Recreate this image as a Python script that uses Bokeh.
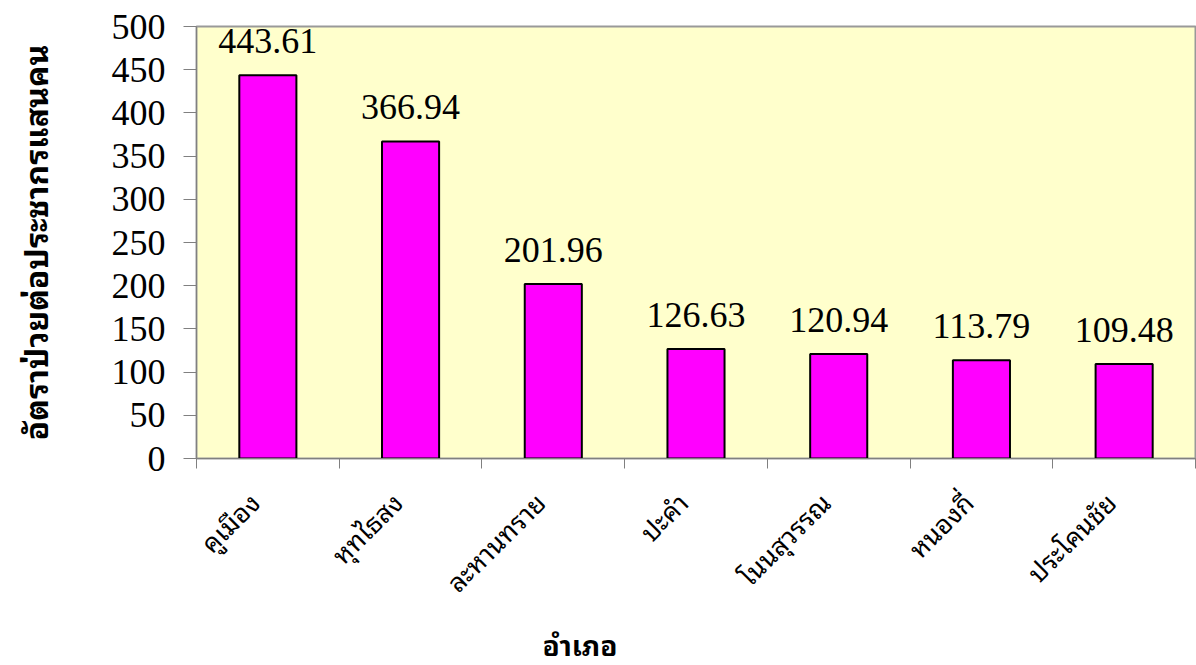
import math
from bokeh.plotting import figure
from bokeh.models import ColumnDataSource, LabelSet, FixedTicker, Range1d, Title
from bokeh.embed import file_html
from bokeh.resources import INLINE

categories = ["คูเมือง", "หุทไธสง", "ละหานทราย", "ปะคำ", "โนนสุวรรณ", "หนองกี่", "ประโคนชัย"]
values = [443.61, 366.94, 201.96, 126.63, 120.94, 113.79, 109.48]
y_ticks = [0, 50, 100, 150, 200, 250, 300, 350, 400, 450, 500]
x_title = "อำเภอ"
y_title = "อัตราป่วยต่อประชากรแสนคน"

THAI = "Noto Sans Thai Looped"

n = len(categories)
xpos = [i + 0.5 for i in range(n)]
label_pos = [x - 0.1 for x in xpos]  # rotated labels end slightly left of bar centre
src = ColumnDataSource(dict(x=xpos, top=values, cat=categories,
                            lbl=["%.2f" % v for v in values]))

p = figure(width=1196, height=665, output_backend="svg", toolbar_location=None,
           x_range=Range1d(0, n), y_range=Range1d(0, 500),
           min_border_left=196, min_border_right=1, min_border_top=26, min_border_bottom=207)
p.background_fill_color = "#FFFFCC"
p.border_fill_color = "white"
p.outline_line_color = "#999999"
p.outline_line_width = 2
p.grid.visible = False

p.vbar(x="x", top="top", width=0.4, bottom=0, source=src,
       fill_color="#FF00FF", line_color="black", line_width=2)

labels = LabelSet(x="x", y="top", text="lbl", source=src, text_align="center",
                  text_baseline="alphabetic", y_offset=22,
                  text_font="Liberation Serif", text_font_size="36px", text_color="black")
p.add_layout(labels)

# y axis
ya = p.yaxis[0]
ya.ticker = FixedTicker(ticks=y_ticks)
ya.axis_line_color = "#808080"
ya.major_tick_line_color = "#808080"
ya.major_tick_out = 13
ya.major_tick_in = 0
ya.minor_tick_line_color = None
ya.major_label_text_font = "Liberation Serif"
ya.major_label_text_font_size = "36px"
ya.major_label_text_color = "black"
ya.major_label_standoff = 18
ya.axis_label = y_title
ya.axis_label_text_font = THAI
ya.axis_label_text_font_style = "bold"
ya.axis_label_text_font_size = "32px"
ya.axis_label_text_color = "black"
ya.axis_label_standoff = 50

# x axis
xa = p.xaxis[0]
xa.ticker = FixedTicker(ticks=label_pos, minor_ticks=list(range(n + 1)))
xa.major_label_overrides = {x: c for x, c in zip(label_pos, categories)}
xa.axis_line_color = "#808080"
xa.major_tick_line_color = None
xa.major_tick_out = 0
xa.major_tick_in = 0
xa.minor_tick_line_color = "#808080"
xa.minor_tick_out = 10
xa.minor_tick_in = 0
xa.major_label_orientation = math.pi / 4
xa.major_label_text_font = THAI
xa.major_label_text_font_size = "26px"
xa.major_label_text_color = "black"
xa.major_label_standoff = 28

p.add_layout(Title(text=x_title, align="left", offset=346, standoff=0, text_font=THAI,
                   text_font_style="bold", text_font_size="28px", text_color="black"), "below")

open("out.html", "w").write(file_html(p, INLINE))
